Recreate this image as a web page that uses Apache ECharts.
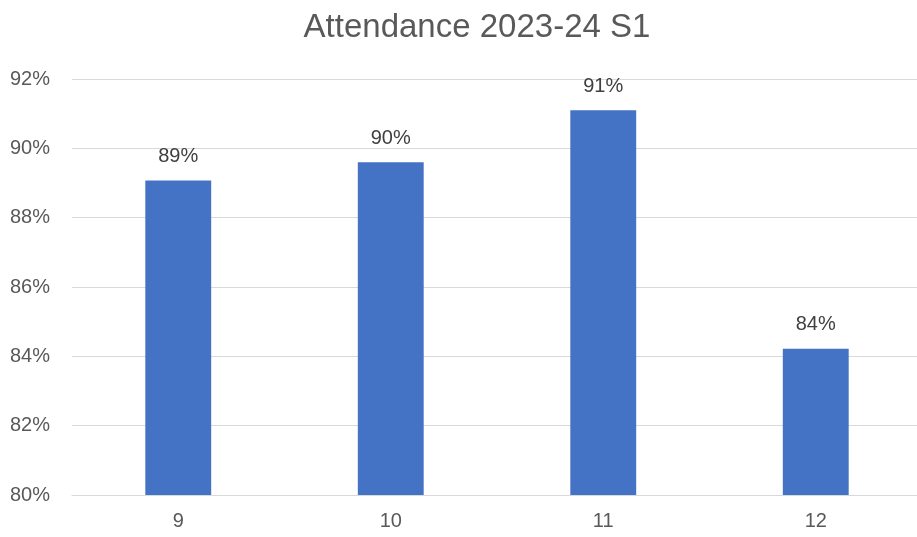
<!DOCTYPE html>
<html><head><meta charset="utf-8">
<script src="https://cdn.jsdelivr.net/npm/echarts@6/dist/echarts.min.js"></script>
<style>html,body{margin:0;padding:0;background:#fff;overflow:hidden;width:917px;height:537px}#c{width:922px;height:537px}</style>
</head><body><div id="c"></div>
<script>
const titleText = 'Attendance 2023-24 S1';
const categories = ['9', '10', '11', '12'];
const attendance = [89.07, 89.6, 91.1, 84.22];
const yMin = 80, yMax = 92, yStep = 2;

const FONT = '"Liberation Sans", sans-serif';
const chart = echarts.init(document.getElementById('c'), null, {renderer: 'canvas'});
chart.setOption({
  animation: false,
  backgroundColor: '#ffffff',
  title: {
    text: titleText,
    left: 472, top: 6, textAlign: 'center',
    textStyle: {fontFamily: FONT, fontSize: 33, fontWeight: 'normal', color: '#595959'}
  },
  grid: {left: 72, top: 79, right: 0, bottom: 42, containLabel: false},
  xAxis: {
    type: 'category', data: categories,
    axisLine: {show: true, lineStyle: {color: '#d9d9d9', width: 1}},
    axisTick: {show: false},
    axisLabel: {fontFamily: FONT, fontSize: 20, color: '#595959', margin: 16}
  },
  yAxis: {
    type: 'value', min: yMin, max: yMax, interval: yStep,
    axisLine: {show: false}, axisTick: {show: false},
    splitLine: {lineStyle: {color: '#d9d9d9', width: 1}},
    axisLabel: {fontFamily: FONT, fontSize: 20, color: '#595959', margin: 22,
      formatter: v => v + '%'}
  },
  series: [{
    type: 'bar', data: attendance, barWidth: '31%',
    itemStyle: {color: '#4472C4'},
    label: {show: true, position: 'top', distance: 14,
      fontFamily: FONT, fontSize: 20, color: '#404040',
      formatter: p => Math.round(p.value) + '%'}
  }]
});
</script></body></html>
